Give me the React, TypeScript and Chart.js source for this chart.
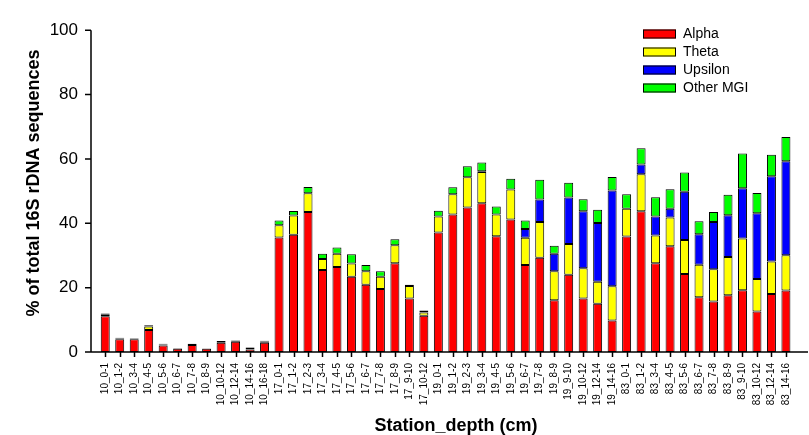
import React, { useEffect, useRef } from "react";
import { Chart, registerables } from "chart.js";

Chart.register(...registerables);

const categories = [
  "10_0-1", "10_1-2", "10_3-4", "10_4-5", "10_5-6", "10_6-7", "10_7-8", "10_8-9", "10_10-12", "10_12-14", "10_14-16", "10_16-18",
  "17_0-1", "17_1-2", "17_2-3", "17_3-4", "17_4-5", "17_5-6", "17_6-7", "17_7-8", "17_8-9", "17_9-10", "17_10-12",
  "19_0-1", "19_1-2", "19_2-3", "19_3-4", "19_4-5", "19_5-6", "19_6-7", "19_7-8", "19_8-9", "19_9-10", "19_10-12", "19_12-14", "19_14-16",
  "83_0-1", "83_1-2", "83_3-4", "83_4-5", "83_5-6", "83_6-7", "83_7-8", "83_8-9", "83_9-10", "83_10-12", "83_12-14", "83_14-16",
];

const alpha = [
  11.1, 4, 4, 6.8, 2, 1, 2.2, 1, 2.9, 3.2, 0.8, 2.9,
  35.6, 36.4, 43.5, 25.5, 26.4, 23.4, 20.9, 19.6, 27.6, 16.6, 11.3,
  37.1, 42.7, 44.9, 46.2, 36, 41.2, 27, 29.3, 16.1, 24, 16.6, 15, 9.8,
  35.9, 43.7, 27.6, 32.9, 24.2, 17, 15.7, 17.6, 19.2, 12.6, 18, 19.1,
];
const theta = [
  0.6, 0.2, 0.1, 1.1, 0.3, 0, 0, 0.1, 0.2, 0, 0.5, 0.4,
  3.8, 6, 5.8, 3.4, 4.1, 4.1, 4.2, 3.8, 5.6, 3.9, 1,
  5, 6.3, 9.4, 9.7, 6.7, 9.3, 8.5, 11.1, 9, 9.6, 9.4, 6.8, 10.6,
  8.6, 11.5, 8.6, 8.9, 10.6, 10.1, 10, 11.9, 16.1, 10.1, 10.1, 11,
];
const upsilon = [
  0, 0, 0, 0, 0, 0, 0, 0, 0, 0, 0, 0,
  0, 0, 0, 0, 0, 0, 0, 0, 0, 0, 0,
  0, 0, 0, 0.3, 0, 0, 2.7, 7, 5.4, 14.4, 17.7, 18.3, 29.8,
  0, 3.1, 5.9, 2.7, 15, 9.5, 14.7, 13, 15.6, 20.4, 26.5, 29.2,
];
const otherMGI = [
  0.3, 0.2, 0.2, 0.4, 0.3, 0.2, 0.4, 0.1, 0.3, 0.4, 0.2, 0.2,
  1.5, 1.4, 2, 1.6, 2, 2.9, 1.9, 1.7, 1.8, 0.4, 0.6,
  1.8, 2.2, 3.4, 2.7, 2.5, 3.3, 2.7, 6.1, 2.5, 4.6, 3.8, 4.1, 4.2,
  4.5, 5, 6, 6.1, 6, 4, 3.1, 6.4, 10.8, 6.3, 6.7, 7.5,
];

const yTicks = [0, 20, 40, 60, 80, 100];
const seriesNames = ["Alpha", "Theta", "Upsilon", "Other MGI"];
const seriesColors = ["#ff0000", "#ffff00", "#0000ff", "#00ff00"];
const yTitle = "% of total 16S rDNA sequences";
const xTitle = "Station_depth (cm)";

const FONT = "'Liberation Sans', Arial, sans-serif";

const decorPlugin = {
  id: "decor",
  afterDraw(chart: any) {
    const ctx = chart.ctx;
    const area = chart.chartArea;
    const xs = chart.scales.x;
    const ys = chart.scales.y;
    const axisX = area.left - 7;
    const y0 = ys.getPixelForValue(0);
    const y100 = ys.getPixelForValue(100);
    ctx.save();
    ctx.strokeStyle = "#000";
    ctx.lineWidth = 1.5;
    // y axis
    ctx.beginPath();
    ctx.moveTo(axisX, y100);
    ctx.lineTo(axisX, y0);
    yTicks.forEach((v) => {
      const py = ys.getPixelForValue(v);
      ctx.moveTo(axisX - 6, py);
      ctx.lineTo(axisX, py);
    });
    // x axis
    ctx.moveTo(axisX, y0);
    ctx.lineTo(chart.width - 1, y0);
    categories.forEach((_, i) => {
      const px = Math.round(xs.getPixelForValue(i)) + 0.5;
      ctx.moveTo(px, y0);
      ctx.lineTo(px, y0 + 5);
    });
    ctx.stroke();

    // titles
    ctx.fillStyle = "#000";
    ctx.font = `bold 18px ${FONT}`;
    ctx.textAlign = "center";
    ctx.textBaseline = "middle";
    ctx.fillText(xTitle, 456, 426);
    ctx.save();
    ctx.translate(34, 183);
    ctx.rotate(-Math.PI / 2);
    ctx.fillText(yTitle, 0, 0);
    ctx.restore();

    // legend
    ctx.font = `14px ${FONT}`;
    ctx.textAlign = "left";
    seriesNames.forEach((name, i) => {
      const cy = 34 + i * 18;
      ctx.fillStyle = seriesColors[i];
      ctx.fillRect(643, cy - 4.5, 33, 9);
      ctx.lineWidth = 1;
      ctx.strokeStyle = "#000";
      ctx.strokeRect(643.5, cy - 4, 32, 8);
      ctx.fillStyle = "#000";
      ctx.fillText(name, 683, cy);
    });
    ctx.restore();
  },
};

export default function App() {
  const ref = useRef<HTMLCanvasElement>(null);
  useEffect(() => {
    if (!ref.current) return;
    const series = [alpha, theta, upsilon, otherMGI];
    const chart = new Chart(ref.current, {
      type: "bar",
      data: {
        labels: categories,
        datasets: series.map((d, i) => ({
          label: seriesNames[i],
          data: d,
          backgroundColor: seriesColors[i],
          borderColor: "#000",
          borderWidth: 1,
          borderSkipped: false,
          barPercentage: 0.62,
          categoryPercentage: 1,
        })),
      },
      options: {
        responsive: false,
        animation: false,
        devicePixelRatio: 1,
        layout: { padding: { top: 20, right: 7, left: 0, bottom: 0 } },
        plugins: { legend: { display: false }, tooltip: { enabled: false }, title: { display: false } },
        scales: {
          x: {
            stacked: true,
            grid: { display: false, drawTicks: false },
            border: { display: false },
            ticks: {
              autoSkip: false,
              maxRotation: 90,
              minRotation: 90,
              padding: 11,
              color: "#000",
              font: { family: FONT, size: 10 },
            },
            afterFit: (s: any) => {
              s.height = 83;
            },
          },
          y: {
            stacked: true,
            min: 0,
            max: 100,
            grid: { display: false, drawTicks: false },
            border: { display: false },
            ticks: {
              stepSize: 20,
              padding: 20,
              color: "#000",
              font: { family: FONT, size: 17 },
            },
            afterFit: (s: any) => {
              s.width = 98;
            },
          },
        },
      },
      plugins: [decorPlugin],
    });
    return () => chart.destroy();
  }, []);
  return (
    <div style={{ position: "fixed", left: 0, top: 0, width: 809, height: 435, background: "#fff" }}>
      <canvas ref={ref} width={809} height={435} />
    </div>
  );
}
